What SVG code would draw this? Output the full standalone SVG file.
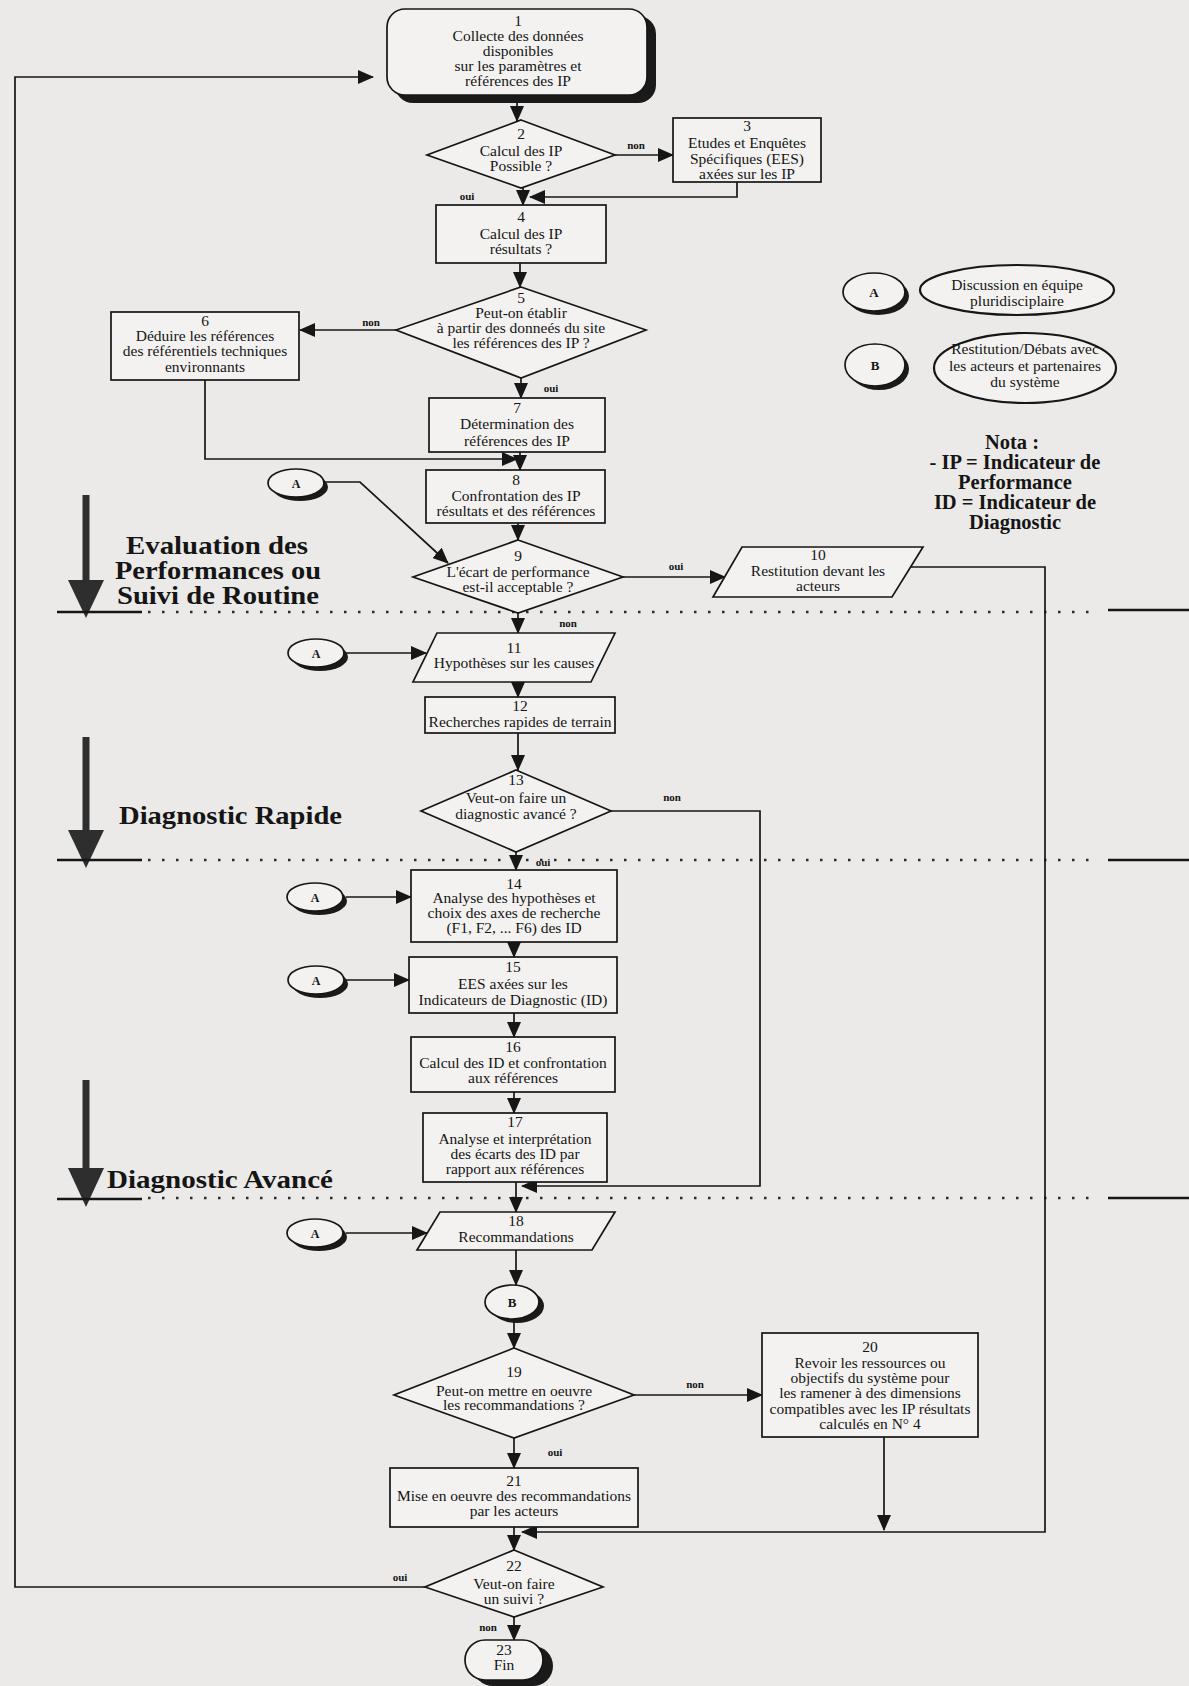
<svg xmlns="http://www.w3.org/2000/svg" width="1189" height="1686" viewBox="0 0 1189 1686">
<defs>
<style>
.bg{fill:#ebeae8}
.box{fill:#f3f2f0;stroke:#161616;stroke-width:1.7}
.sh{fill:#1a1a1a}
.t{font-family:"Liberation Serif","Times New Roman",serif;font-size:15.5px;text-anchor:middle;fill:#151515}
.lbl{font-family:"Liberation Serif","Times New Roman",serif;font-size:11px;font-weight:bold;text-anchor:middle;fill:#151515}
.ph{font-family:"Liberation Serif","Times New Roman",serif;font-size:25px;font-weight:bold;fill:#151515}
.nota{font-family:"Liberation Serif","Times New Roman",serif;font-size:20.5px;font-weight:bold;text-anchor:middle;fill:#151515}
.ca{stroke:#161616;stroke-width:1.7;fill:none;marker-end:url(#ah)}
.dot{stroke:#2a2a2a;stroke-width:2.5;stroke-dasharray:2.5 11.5;fill:none}
.sol{stroke:#161616;stroke-width:2.5;fill:none}
.big{stroke:#2e2e2e;stroke-width:7;fill:none}
</style>
<marker id="ah" viewBox="0 0 16 14" refX="15" refY="7" markerWidth="16" markerHeight="14" markerUnits="userSpaceOnUse" orient="auto">
<path d="M0,0 L16,7 L0,14 Z" fill="#161616"/>
</marker>
</defs>
<rect class="bg" x="0" y="0" width="1189" height="1686"/>

<g id="phases">
<line class="big" x1="86" y1="495" x2="86" y2="585"/>
<path d="M68,580 L104,580 L86,618 Z" fill="#2e2e2e"/>
<text class="ph" x="126" y="554" textLength="182" lengthAdjust="spacingAndGlyphs">Evaluation des</text>
<text class="ph" x="115" y="579" textLength="206" lengthAdjust="spacingAndGlyphs">Performances ou</text>
<text class="ph" x="117" y="604" textLength="202" lengthAdjust="spacingAndGlyphs">Suivi de Routine</text>
<line class="sol" x1="57" y1="612" x2="142" y2="612"/>
<line class="dot" x1="148" y1="612" x2="1100" y2="612"/>
<line class="sol" x1="1108" y1="610" x2="1189" y2="610"/>

<line class="big" x1="86" y1="737" x2="86" y2="835"/>
<path d="M68,830 L104,830 L86,868 Z" fill="#2e2e2e"/>
<text class="ph" x="119" y="824" textLength="223" lengthAdjust="spacingAndGlyphs">Diagnostic Rapide</text>
<line class="sol" x1="57" y1="860" x2="142" y2="860"/>
<line class="dot" x1="148" y1="860" x2="1100" y2="860"/>
<line class="sol" x1="1108" y1="860" x2="1189" y2="860"/>

<line class="big" x1="86" y1="1080" x2="86" y2="1172"/>
<path d="M68,1168 L104,1168 L86,1207 Z" fill="#2e2e2e"/>
<text class="ph" x="107" y="1188" textLength="226" lengthAdjust="spacingAndGlyphs">Diagnostic Avancé</text>
<line class="sol" x1="57" y1="1199" x2="142" y2="1199"/>
<line class="dot" x1="148" y1="1198" x2="1100" y2="1198"/>
<line class="sol" x1="1108" y1="1198" x2="1189" y2="1198"/>
</g>

<g id="connectors">
<path class="ca" d="M517,103 V121"/>
<path class="ca" d="M615,155 H673"/>
<path class="ca" d="M737,182 V197 H530"/>
<path class="ca" d="M523,188 V205"/>
<path class="ca" d="M520,263 V287"/>
<path class="ca" d="M396,330 H300"/>
<path class="ca" d="M205,380 V459 H517"/>
<path class="ca" d="M521,378 V398"/>
<path class="ca" d="M520,452 V470"/>
<path class="ca" d="M518,523 V540"/>
<path class="ca" d="M623,577 H725"/>
<path class="ca" d="M911,567 H1045 V1532 H522"/>
<path class="ca" d="M325,482 H360 L448,563"/>
<path class="ca" d="M518,613 V633"/>
<path class="ca" d="M346,653 H426"/>
<path class="ca" d="M518,682 V697"/>
<path class="ca" d="M518,733 V770"/>
<path class="ca" d="M611,811 H760 V1186 H522"/>
<path class="ca" d="M516,852 V870"/>
<path class="ca" d="M346,897 H411"/>
<path class="ca" d="M514,942 V957"/>
<path class="ca" d="M346,980 H409"/>
<path class="ca" d="M514,1013 V1037"/>
<path class="ca" d="M514,1092 V1113"/>
<path class="ca" d="M516,1182 V1212"/>
<path class="ca" d="M346,1233 H427"/>
<path class="ca" d="M516,1250 V1285"/>
<path class="ca" d="M514,1321 V1348"/>
<path class="ca" d="M634,1395 H762"/>
<path class="ca" d="M884,1437 V1530"/>
<path class="ca" d="M514,1438 V1468"/>
<path class="ca" d="M514,1527 V1550"/>
<path class="ca" d="M425,1587 H15 V77 H373"/>
<path class="ca" d="M514,1617 V1640"/>
<text class="lbl" x="636" y="149">non</text>
<text class="lbl" x="467" y="200">oui</text>
<text class="lbl" x="371" y="326">non</text>
<text class="lbl" x="551" y="392">oui</text>
<text class="lbl" x="676" y="570">oui</text>
<text class="lbl" x="568" y="627">non</text>
<text class="lbl" x="672" y="801">non</text>
<text class="lbl" x="543" y="866">oui</text>
<text class="lbl" x="695" y="1388">non</text>
<text class="lbl" x="555" y="1456">oui</text>
<text class="lbl" x="400" y="1581">oui</text>
<text class="lbl" x="488" y="1631">non</text>
</g>

<g id="n1">
<rect class="sh" x="395" y="16" width="261" height="87" rx="18"/>
<rect class="box" x="387" y="9" width="260" height="86" rx="18"/>
<text class="t" x="518" y="26">1</text>
<text class="t" x="518" y="41">Collecte des données</text>
<text class="t" x="518" y="56">disponibles</text>
<text class="t" x="518" y="71">sur les paramètres et</text>
<text class="t" x="518" y="86">références des IP</text>
</g>
<g id="n2">
<polygon class="box" points="521,120 615,155 521,188 427,155"/>
<text class="t" x="521" y="139">2</text>
<text class="t" x="521" y="156">Calcul des IP</text>
<text class="t" x="521" y="171">Possible ?</text>
</g>
<g id="n3">
<rect class="box" x="673" y="118" width="148" height="64"/>
<text class="t" x="747" y="131">3</text>
<text class="t" x="747" y="148">Etudes et Enquêtes</text>
<text class="t" x="747" y="164">Spécifiques (EES)</text>
<text class="t" x="747" y="179">axées sur les IP</text>
</g>
<g id="n4">
<rect class="box" x="436" y="205" width="170" height="58"/>
<text class="t" x="521" y="222">4</text>
<text class="t" x="521" y="239">Calcul des IP</text>
<text class="t" x="521" y="254">résultats ?</text>
</g>
<g id="n5">
<polygon class="box" points="521,287 646,330 521,378 396,330"/>
<text class="t" x="521" y="303">5</text>
<text class="t" x="521" y="318">Peut-on établir</text>
<text class="t" x="521" y="333">à partir des donneés du site</text>
<text class="t" x="521" y="348">les références des IP ?</text>
</g>
<g id="n6">
<rect class="box" x="111" y="312" width="188" height="68"/>
<text class="t" x="205" y="326">6</text>
<text class="t" x="205" y="341">Déduire les références</text>
<text class="t" x="205" y="356">des référentiels techniques</text>
<text class="t" x="205" y="372">environnants</text>
</g>
<g id="n7">
<rect class="box" x="429" y="398" width="176" height="54"/>
<text class="t" x="517" y="413">7</text>
<text class="t" x="517" y="429">Détermination des</text>
<text class="t" x="517" y="446">références des IP</text>
</g>
<g id="n8">
<rect class="box" x="426" y="470" width="179" height="53"/>
<text class="t" x="516" y="485">8</text>
<text class="t" x="516" y="501">Confrontation des IP</text>
<text class="t" x="516" y="516">résultats et des références</text>
</g>
<g id="n9">
<polygon class="box" points="518,540 623,577 518,613 413,577"/>
<text class="t" x="518" y="561">9</text>
<text class="t" x="518" y="577">L'écart de performance</text>
<text class="t" x="518" y="592">est-il acceptable ?</text>
</g>
<g id="n10">
<polygon class="box" points="742,547 923,547 892,597 713,597"/>
<text class="t" x="818" y="560">10</text>
<text class="t" x="818" y="576">Restitution devant les</text>
<text class="t" x="818" y="591">acteurs</text>
</g>
<g id="n11">
<polygon class="box" points="437,633 615,633 591,682 413,682"/>
<text class="t" x="514" y="653">11</text>
<text class="t" x="514" y="668">Hypothèses sur les causes</text>
</g>
<g id="n12">
<rect class="box" x="425" y="697" width="190" height="36"/>
<text class="t" x="520" y="711">12</text>
<text class="t" x="520" y="727">Recherches rapides de terrain</text>
</g>
<g id="n13">
<polygon class="box" points="516,770 611,811 516,852 421,811"/>
<text class="t" x="516" y="785">13</text>
<text class="t" x="516" y="803">Veut-on faire un</text>
<text class="t" x="516" y="819">diagnostic avancé ?</text>
</g>
<g id="n14">
<rect class="box" x="411" y="870" width="206" height="72"/>
<text class="t" x="514" y="889">14</text>
<text class="t" x="514" y="903">Analyse des hypothèses et</text>
<text class="t" x="514" y="918">choix des axes de recherche</text>
<text class="t" x="514" y="933">(F1, F2, ... F6) des ID</text>
</g>
<g id="n15">
<rect class="box" x="409" y="957" width="208" height="56"/>
<text class="t" x="513" y="972">15</text>
<text class="t" x="513" y="989">EES axées sur les</text>
<text class="t" x="513" y="1005">Indicateurs de Diagnostic (ID)</text>
</g>
<g id="n16">
<rect class="box" x="411" y="1037" width="204" height="55"/>
<text class="t" x="513" y="1052">16</text>
<text class="t" x="513" y="1068">Calcul des ID et confrontation</text>
<text class="t" x="513" y="1083">aux références</text>
</g>
<g id="n17">
<rect class="box" x="423" y="1113" width="184" height="69"/>
<text class="t" x="515" y="1127">17</text>
<text class="t" x="515" y="1144">Analyse et interprétation</text>
<text class="t" x="515" y="1159">des écarts des ID par</text>
<text class="t" x="515" y="1174">rapport aux références</text>
</g>
<g id="n18">
<polygon class="box" points="440,1212 615,1212 592,1250 417,1250"/>
<text class="t" x="516" y="1226">18</text>
<text class="t" x="516" y="1242">Recommandations</text>
</g>
<g id="nB">
<ellipse class="sh" cx="517" cy="1306" rx="27" ry="17"/>
<ellipse class="box" cx="512" cy="1302" rx="27" ry="17"/>
<text class="t" x="512" y="1307" style="font-weight:bold;font-size:13px">B</text>
</g>
<g id="n19">
<polygon class="box" points="514,1348 634,1395 514,1438 394,1395"/>
<text class="t" x="514" y="1377">19</text>
<text class="t" x="514" y="1396">Peut-on mettre en oeuvre</text>
<text class="t" x="514" y="1410">les recommandations ?</text>
</g>
<g id="n20">
<rect class="box" x="762" y="1333" width="216" height="104"/>
<text class="t" x="870" y="1352">20</text>
<text class="t" x="870" y="1368">Revoir les ressources ou</text>
<text class="t" x="870" y="1383">objectifs du système pour</text>
<text class="t" x="870" y="1398">les ramener à des dimensions</text>
<text class="t" x="870" y="1414">compatibles avec les IP résultats</text>
<text class="t" x="870" y="1429">calculés en N° 4</text>
</g>
<g id="n21">
<rect class="box" x="390" y="1468" width="248" height="59"/>
<text class="t" x="514" y="1486">21</text>
<text class="t" x="514" y="1501">Mise en oeuvre des recommandations</text>
<text class="t" x="514" y="1516">par les acteurs</text>
</g>
<g id="n22">
<polygon class="box" points="514,1550 603,1587 514,1617 425,1587"/>
<text class="t" x="514" y="1571">22</text>
<text class="t" x="514" y="1589">Veut-on faire</text>
<text class="t" x="514" y="1604">un suivi ?</text>
</g>
<g id="n23">
<rect class="sh" x="473" y="1646" width="80" height="40" rx="20"/>
<rect class="box" x="465" y="1640" width="78" height="40" rx="20"/>
<text class="t" x="504" y="1655">23</text>
<text class="t" x="504" y="1670">Fin</text>
</g>

<g id="connA1">
<ellipse class="sh" cx="300" cy="487" rx="28" ry="14"/>
<ellipse class="box" cx="296" cy="483" rx="28" ry="14"/>
<text class="t" x="296" y="488" style="font-size:12px;font-weight:bold">A</text>
</g>
<g id="connA2">
<ellipse class="sh" cx="320" cy="657" rx="28" ry="14"/>
<ellipse class="box" cx="316" cy="653" rx="28" ry="14"/>
<text class="t" x="316" y="658" style="font-size:12px;font-weight:bold">A</text>
</g>
<g id="connA3">
<ellipse class="sh" cx="319" cy="901" rx="28" ry="14"/>
<ellipse class="box" cx="315" cy="897" rx="28" ry="14"/>
<text class="t" x="315" y="902" style="font-size:12px;font-weight:bold">A</text>
</g>
<g id="connA4">
<ellipse class="sh" cx="320" cy="984" rx="28" ry="14"/>
<ellipse class="box" cx="316" cy="980" rx="28" ry="14"/>
<text class="t" x="316" y="985" style="font-size:12px;font-weight:bold">A</text>
</g>
<g id="connA5">
<ellipse class="sh" cx="319" cy="1237" rx="28" ry="14"/>
<ellipse class="box" cx="315" cy="1233" rx="28" ry="14"/>
<text class="t" x="315" y="1238" style="font-size:12px;font-weight:bold">A</text>
</g>

<g id="legend">
<ellipse class="sh" cx="878" cy="296" rx="31" ry="19"/>
<ellipse class="box" cx="874" cy="292" rx="31" ry="19"/>
<text class="t" x="874" y="297" style="font-size:13px;font-weight:bold">A</text>
<ellipse class="box" cx="1017" cy="290" rx="97" ry="25" style="stroke-width:2.2"/>
<text class="t" x="1017" y="290">Discussion en équipe</text>
<text class="t" x="1017" y="306">pluridisciplaire</text>
<ellipse class="sh" cx="879" cy="369" rx="30" ry="21"/>
<ellipse class="box" cx="875" cy="365" rx="30" ry="21"/>
<text class="t" x="875" y="370" style="font-size:13px;font-weight:bold">B</text>
<ellipse class="box" cx="1025" cy="368" rx="91" ry="35" style="stroke-width:2.2"/>
<text class="t" x="1025" y="354">Restitution/Débats avec</text>
<text class="t" x="1025" y="371">les acteurs et partenaires</text>
<text class="t" x="1025" y="387">du système</text>
</g>

<g id="nota">
<text class="nota" x="1012" y="449">Nota :</text>
<text class="nota" x="1015" y="469">- IP = Indicateur de</text>
<text class="nota" x="1015" y="489">Performance</text>
<text class="nota" x="1015" y="509">ID = Indicateur de</text>
<text class="nota" x="1015" y="529">Diagnostic</text>
</g>
</svg>
